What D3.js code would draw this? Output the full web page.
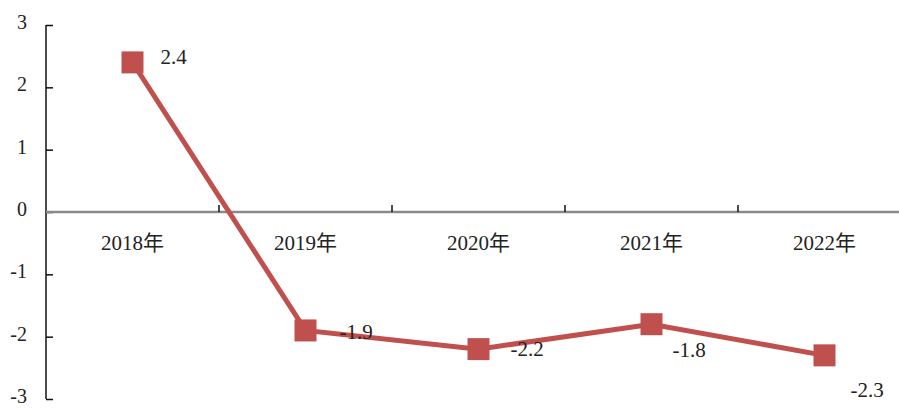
<!DOCTYPE html>
<html>
<head>
<meta charset="utf-8">
<script src="https://cdn.jsdelivr.net/npm/d3@7"></script>
<style>
  html, body { margin: 0; padding: 0; background: #fff; overflow: hidden; }
  text { font-family: "Liberation Serif", "Noto Sans CJK SC", serif; fill: #222; }
</style>
</head>
<body>
<script>
let years = ['2018年', '2019年', '2020年', '2021年', '2022年']
let values = [2.4, -1.9, -2.2, -1.8, -2.3]
let yTicks = [-3, -2, -1, 0, 1, 2, 3]
// label offsets from marker centre
let labelDx = [28, 34, 32, 21, 26]
let labelDy = [-6, 1, 0, 25, 34]

let width = 899
let height = 408
let red = '#c0504d'

let svg = d3.select('body').append('svg')
  .attr('width', width)
  .attr('height', height)

//scales
let xScale = d3.scaleBand().domain(years).range([46, 911])
let yScale = d3.scaleLinear().domain([-3, 3]).range([399, 25])

// y axis
let yAxis = svg.append('g')
  .attr('transform', 'translate(46,0)')
  .call(d3.axisRight(yScale).tickValues(yTicks).tickSize(7).tickFormat(''))
yAxis.select('.domain').remove()
yAxis.selectAll('line').attr('stroke', '#111').attr('stroke-width', 1.5)
svg.append('line')
  .attr('x1', 46).attr('x2', 46)
  .attr('y1', yScale(3)).attr('y2', yScale(-3))
  .attr('stroke', '#111').attr('stroke-width', 1.5)

svg.selectAll('.ylab')
  .data(yTicks)
  .enter()
  .append('text')
  .attr('class', 'ylab')
  .attr('x', 27)
  .attr('y', d => yScale(d) - 2)
  .attr('dy', '0.3em')
  .attr('text-anchor', 'end')
  .attr('font-size', 20)
  .text(d => d)

// x axis at zero
svg.append('line')
  .attr('x1', 46).attr('x2', width)
  .attr('y1', yScale(0)).attr('y2', yScale(0))
  .attr('stroke', '#8a8a8a').attr('stroke-width', 2.5)

svg.selectAll('.xtick')
  .data(years.slice(1))
  .enter()
  .append('line')
  .attr('class', 'xtick')
  .attr('x1', d => xScale(d)).attr('x2', d => xScale(d))
  .attr('y1', yScale(0)).attr('y2', yScale(0) - 7)
  .attr('stroke', '#111').attr('stroke-width', 1.5)

svg.selectAll('.xlab')
  .data(years)
  .enter()
  .append('text')
  .attr('class', 'xlab')
  .attr('x', d => xScale(d) + xScale.bandwidth() / 2)
  .attr('y', yScale(0) + 38)
  .attr('text-anchor', 'middle')
  .attr('font-size', 21)
  .attr('fill', '#444')
  .text(d => d)

// line
let line = d3.line()
  .x((d, i) => xScale(years[i]) + xScale.bandwidth() / 2)
  .y(d => yScale(d))

svg.append('path')
  .datum(values)
  .attr('d', line)
  .attr('fill', 'none')
  .attr('stroke', red)
  .attr('stroke-width', 5)

let size = 22
svg.selectAll('.marker')
  .data(values)
  .enter()
  .append('rect')
  .attr('class', 'marker')
  .attr('x', (d, i) => xScale(years[i]) + xScale.bandwidth() / 2 - size / 2)
  .attr('y', d => yScale(d) - size / 2)
  .attr('width', size)
  .attr('height', size)
  .attr('fill', red)

svg.selectAll('.vlab')
  .data(values)
  .enter()
  .append('text')
  .attr('class', 'vlab')
  .attr('x', (d, i) => xScale(years[i]) + xScale.bandwidth() / 2 + labelDx[i])
  .attr('y', (d, i) => yScale(d) + labelDy[i])
  .attr('dy', '0.35em')
  .attr('font-size', 21)
  .text(d => d)
</script>
</body>
</html>
